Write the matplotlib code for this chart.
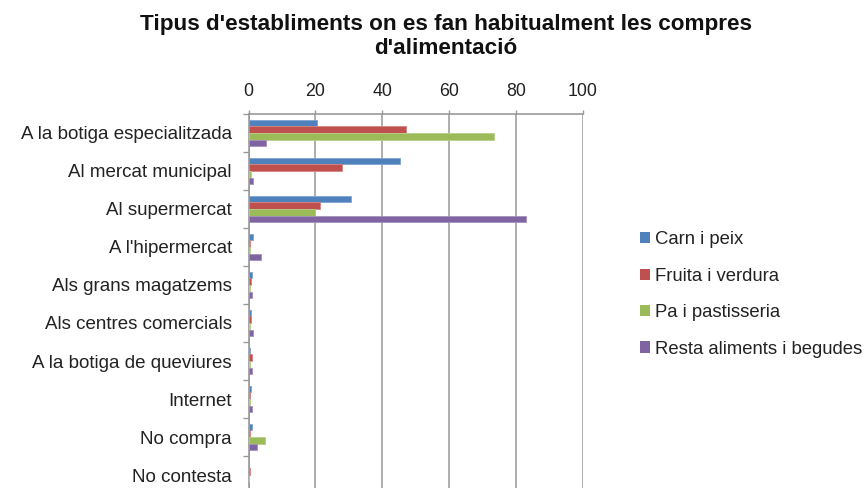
import numpy as np
import matplotlib
matplotlib.use("Agg")
import matplotlib.pyplot as plt
from matplotlib.patches import Patch

plt.rcParams['font.family'] = ['Liberation Sans', 'DejaVu Sans']

# Dades llegides del gràfic (percentatge)
categories = ["A la botiga especialitzada", "Al mercat municipal", "Al supermercat",
              "A l'hipermercat", "Als grans magatzems", "Als centres comercials",
              "A la botiga de queviures", "Internet", "No compra", "No contesta"]
series_names = ["Carn i peix", "Fruita i verdura", "Pa i pastisseria", "Resta aliments i begudes"]
carn_peix = [20.4, 45.2, 30.7, 1.3, 0.9, 0.7, 0.5, 0.6, 0.9, 0.0]
fruita_verdura = [47.0, 28.0, 21.5, 0.5, 0.6, 0.6, 1.0, 0.5, 0.5, 0.5]
pa_pastisseria = [73.5, 0.6, 20.0, 0.4, 0.4, 0.4, 0.4, 0.4, 5.0, 0.0]
resta_aliments = [5.1, 1.3, 83.0, 3.6, 0.9, 1.2, 0.9, 0.9, 2.4, 0.0]
x_ticks = [0, 20, 40, 60, 80, 100]

colors = ["#4F81BD", "#C0504D", "#9BBB59", "#8064A2"]
edges = ["#7FA3D0", "#D68482", "#B8D08A", "#A590BD"]
all_series = [carn_peix, fruita_verdura, pa_pastisseria, resta_aliments]

fig = plt.figure(figsize=(8.68, 4.88), dpi=100)
ax = fig.add_axes([0.2863, -0.0123, 0.3854, 0.7787])

y = np.arange(len(categories))
h = 0.174
for k, (vals, col, ec) in enumerate(zip(all_series, colors, edges)):
    ax.barh(y + (k - 1.5) * h, vals, height=h, color=col, edgecolor=ec,
            linewidth=0.6, zorder=3)

ax.set_xlim(0, 100)
ax.set_ylim(len(categories) - 0.5, -0.5)
ax.xaxis.tick_top()
ax.set_xticks(x_ticks)
ax.set_xticklabels([str(t) for t in x_ticks])
ax.tick_params(axis='x', length=3, width=1, color='#999999', pad=7,
               labelsize=12.8, labelcolor='#222222')
ax.grid(axis='x', color='#a0a0a0', linewidth=1.2, zorder=0)

ax.set_yticks(y)
ax.set_yticklabels(categories)
ax.set_yticks(np.arange(len(categories) + 1) - 0.5, minor=True)
ax.tick_params(axis='y', which='major', length=0, pad=12,
               labelsize=13.5, labelcolor='#222222')
ax.tick_params(axis='y', which='minor', length=4, width=1, color='#999999')

for s in ['right', 'bottom']:
    ax.spines[s].set_visible(False)
for s in ['left', 'top']:
    ax.spines[s].set_color('#999999')
    ax.spines[s].set_linewidth(1.2)

fig.suptitle("Tipus d'establiments on es fan habitualment les compres\nd'alimentació",
             x=0.514, y=0.972, fontsize=16.2, fontweight='bold', color='#111111',
             linespacing=1.22)

handles = [Patch(facecolor=c, edgecolor='none') for c in colors]
fig.legend(handles, series_names, loc='upper left', bbox_to_anchor=(0.718, 0.56),
           frameon=False, fontsize=13.3, handlelength=0.55, handleheight=0.55,
           handletextpad=0.25, labelspacing=1.05, labelcolor='#222222')

fig.savefig("out.png", dpi=100)
